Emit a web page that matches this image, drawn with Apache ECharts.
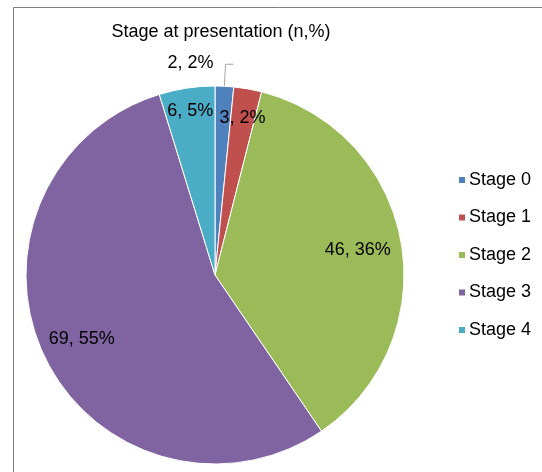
<!DOCTYPE html>
<html>
<head>
<meta charset="utf-8">
<script src="https://cdn.jsdelivr.net/npm/echarts@6/dist/echarts.min.js"></script>
<style>
html,body{margin:0;padding:0;background:#fff;}
#chart{width:542px;height:472px;}
</style>
</head>
<body>
<div id="chart"></div>
<script>
const titleText = 'Stage at presentation (n,%)';
const categories = ['Stage 0', 'Stage 1', 'Stage 2', 'Stage 3', 'Stage 4'];
const counts = [2, 3, 46, 69, 6];
const percentLabels = ['2%', '2%', '36%', '55%', '5%'];
const colors = ['#4F81BD', '#C0504D', '#9BBB59', '#8064A2', '#4BACC6'];

const font = 'Liberation Sans, Arial, sans-serif';
const chart = echarts.init(document.getElementById('chart'));

const mainData = categories.map((c, i) => ({
  name: c,
  value: counts[i],
  itemStyle: { color: colors[i] },
  label: i === 0 ? { show: true, position: 'outside' } : { show: false },
  labelLine: i === 0 ? { show: true, length: 22, length2: 8, lineStyle: { color: '#a6a6a6', width: 1 } } : { show: false }
}));

const fmt = p => counts[p.dataIndex] + ', ' + percentLabels[p.dataIndex];

// transparent overlay rings that only carry one inside label each,
// so each label can sit at its own distance from the centre (Excel best-fit look)
const overlaySeries = (inner, idx) => ({
  type: 'pie',
  center: [215, 275],
  radius: [inner, 185],
  startAngle: 90,
  clockwise: true,
  data: categories.map((c, i) => ({ name: c, value: counts[i], label: { show: i === idx } })),
  itemStyle: { color: 'rgba(0,0,0,0)' },
  label: { position: 'inside', formatter: fmt, fontFamily: font, fontSize: 18, color: '#000' },
  labelLine: { show: false },
  emphasis: { disabled: true },
  silent: true,
  legendHoverLink: false
});

chart.setOption({
  animation: false,
  title: {
    text: titleText,
    left: 216, textAlign: 'center', top: 18,
    textStyle: { fontFamily: font, fontSize: 18, fontWeight: 'normal', color: '#000' }
  },
  legend: {
    orient: 'vertical',
    left: 452, top: 166,
    itemWidth: 8, itemHeight: 8, itemGap: 19.5,
    icon: 'rect',
    data: categories,
    textStyle: { fontFamily: font, fontSize: 18, color: '#000', padding: [0, 0, 0, -2] }
  },
  graphic: [{
    type: 'rect', silent: true, z: -10,
    shape: { x: 13.5, y: 7.5, width: 700, height: 700 },
    style: { fill: 'none', stroke: '#808080', lineWidth: 1 }
  }],
  series: [
    {
      type: 'pie',
      center: [215, 275],
      radius: [0, 189],
      startAngle: 90,
      clockwise: true,
      data: mainData,
      itemStyle: { borderColor: '#fff', borderWidth: 1 },
      label: { formatter: fmt, fontFamily: font, fontSize: 18, color: '#000' },
      labelLayout: function (p) {
        if (p.dataIndex === 0) {
          return { dx: -(p.labelRect.width + 25), dy: -1 };
        }
      },
      emphasis: { disabled: true },
      silent: true
    },
    overlaySeries(127, 1),
    overlaySeries(99, 2),
    overlaySeries(105, 3),
    overlaySeries(141, 4)
  ]
});
</script>
</body>
</html>
